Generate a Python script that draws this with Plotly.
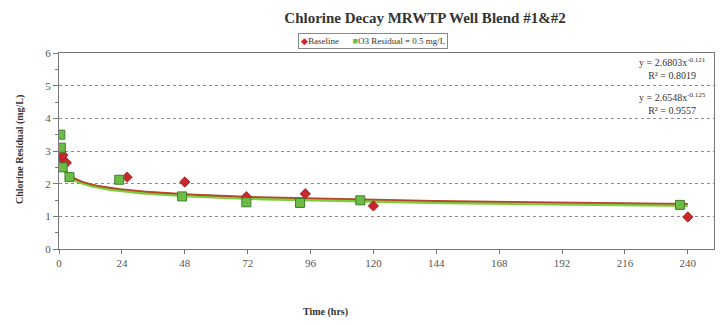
import numpy as np
import plotly.graph_objects as go

# ---- data ----
baseline_x = [0.8, 1.5, 2.8, 26, 48, 71.5, 94, 120, 240]
baseline_y = [2.79, 2.88, 2.64, 2.2, 2.05, 1.6, 1.69, 1.32, 0.98]

o3_x = [0.5, 0.7, 1.4, 4, 23, 47, 71.5, 92, 115, 237]
o3_y = [3.5, 3.1, 2.5, 2.2, 2.12, 1.61, 1.43, 1.41, 1.49, 1.35]

# power trendline coefficients (y = a * x^b) and R² shown on the chart
baseline_fit = [2.6803, -0.121, 0.8019]
o3_fit = [2.6548, -0.125, 0.9557]

series_names = ["Baseline", "O3 Residual = 0.5 mg/L"]
x_ticks = [0, 24, 48, 72, 96, 120, 144, 168, 192, 216, 240]
y_ticks = [0, 1, 2, 3, 4, 5, 6]

SERIF = "Liberation Serif"
RED, RED_EDGE = "#c8282c", "#9e1e22"
GREEN, GREEN_EDGE = "#6cbd45", "#3f7d2c"

xs = np.linspace(0.5, 240, 400)

fig = go.Figure()
fig.add_trace(go.Scatter(x=xs, y=o3_fit[0] * xs ** o3_fit[1], mode="lines",
                         line=dict(color="#7ccf3c", width=3.5), showlegend=False,
                         hoverinfo="skip"))
fig.add_trace(go.Scatter(x=xs, y=baseline_fit[0] * xs ** baseline_fit[1], mode="lines",
                         line=dict(color="#b5452b", width=1.8), showlegend=False,
                         hoverinfo="skip"))
fig.add_trace(go.Scatter(x=baseline_x, y=baseline_y, mode="markers", name=series_names[0],
                         showlegend=False,
                         marker=dict(symbol="diamond", size=8, color=RED,
                                     line=dict(color=RED_EDGE, width=0.8))))
fig.add_trace(go.Scatter(x=o3_x, y=o3_y, mode="markers", name=series_names[1],
                         showlegend=False,
                         marker=dict(symbol="square", size=9, color=GREEN,
                                     line=dict(color=GREEN_EDGE, width=1))))

# the page body adds an 8px offset; size the figure so the plot area lands right
OFF = 8
W, H = 724 - OFF, 325 - OFF
PL, PR, PT, PB = 58.7, 714.3, 53, 249.5          # plot area in page pixels
L, R, T, B = PL - OFF, W - (PR - OFF), PT - OFF, H - (PB - OFF)
pw, ph = W - L - R, H - T - B

def px_x(p):
    return (p - OFF - L) / pw

def px_y(p):
    return (H - B - (p - OFF)) / ph

fig.update_layout(
    width=W, height=H,
    margin=dict(l=L, r=R, t=T, b=B, pad=0),
    paper_bgcolor="white", plot_bgcolor="white",
    font=dict(family=SERIF, color="#444444", size=11),
    title=dict(text="<b>Chlorine Decay MRWTP Well Blend #1&#2</b>",
               x=(425 - OFF) / W, xanchor="center", y=1 - (18 - OFF) / H, yanchor="middle",
               font=dict(family=SERIF, size=15, color="#333333")),
    showlegend=False,
    xaxis=dict(range=[0, 250], tickvals=x_ticks, ticktext=[str(v) for v in x_ticks],
               showgrid=False, zeroline=False, showline=True, linecolor="#777777",
               linewidth=1, mirror=True, ticks="outside", ticklen=4, tickcolor="#777777",
               tickfont=dict(family=SERIF, size=11, color="#555555")),
    yaxis=dict(range=[0, 6], tickvals=y_ticks, ticktext=[str(v) for v in y_ticks],
               showgrid=True, gridcolor="#8a8a8a", griddash="dot", gridwidth=1,
               zeroline=False, showline=True, linecolor="#777777", linewidth=1,
               mirror=True, ticks="outside", ticklen=5, tickcolor="#777777",
               minor=dict(dtick=0.5, ticks="outside", ticklen=3, tickcolor="#777777",
                          showgrid=False),
               tickfont=dict(family=SERIF, size=11, color="#555555")),
)

legend_text = ("<span style='color:%s'>◆</span>%s      "
               "<span style='color:%s'>■</span>%s") % (RED, series_names[0], GREEN, series_names[1])

annots = [
    dict(text="<b>Time (hrs)</b>", x=px_x(325), y=px_y(313), size=10),
    dict(text="<b>Chlorine Residual (mg/L)</b>", x=px_x(19), y=px_y(150), textangle=-90, size=10),
    dict(text="y = %.4fx<sup>%.3f</sup><br>R² = %.4f" % tuple(baseline_fit),
         x=px_x(708), y=px_y(69), xanchor="right", size=10),
    dict(text="y = %.4fx<sup>%.3f</sup><br>R² = %.4f" % tuple(o3_fit),
         x=px_x(708), y=px_y(104), xanchor="right", size=10),
    dict(text=legend_text, x=px_x(373), y=px_y(41), size=9,
         bordercolor="#888888", borderwidth=1, borderpad=2, bgcolor="white"),
]
for a in annots:
    size = a.pop("size")
    base = dict(xref="paper", yref="paper", showarrow=False, yanchor="middle",
                xanchor="center", align="center",
                font=dict(family=SERIF, size=size, color="#333333"))
    base.update(a)
    fig.add_annotation(**base)

fig.write_html("out.html")
